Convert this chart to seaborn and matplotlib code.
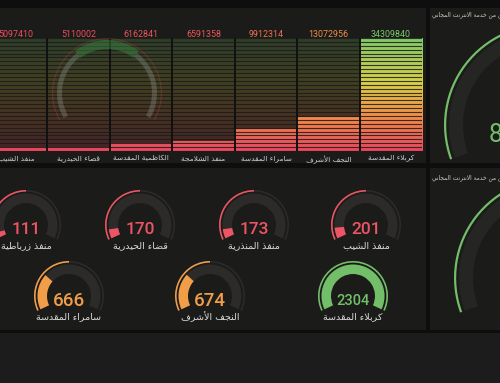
import numpy as np
import pandas as pd
import matplotlib
matplotlib.use("Agg")
import matplotlib.pyplot as plt
import seaborn as sns
from matplotlib.patches import Wedge, Rectangle
from matplotlib.colors import LinearSegmentedColormap

# ---------------- data ----------------
bar_labels = ["منفذ الشيب", "قضاء الحيدرية", "الكاظمية المقدسة", "منفذ الشلامجة",
              "سامراء المقدسة", "النجف الأشرف", "كربلاء المقدسة"]
bar_values = [5097410, 5110002, 6162841, 6591358, 9912314, 13072956, 34309840]
bar_min = 4000000
bar_max = 34309840

gauge_labels_top = ["منفذ زرباطية", "قضاء الحيدرية", "منفذ المنذرية", "منفذ الشيب"]
gauge_values_top = [111, 170, 173, 201]
gauge_labels_bottom = ["سامراء المقدسة", "النجف الأشرف", "كربلاء المقدسة"]
gauge_values_bottom = [666, 674, 2304]
gauge_max = 2304

side_title = "عدد المستفيدين من خدمة الانترنت المجاني"
side_values = [85000000, 4299]

# ---------------- minimal Arabic shaping (presentation forms, visual order) -------------
_TABLE = [('\u0621', 0xFE80, 1), ('\u0622', 0xFE81, 2), ('\u0623', 0xFE83, 2), ('\u0624', 0xFE85, 2),
          ('\u0625', 0xFE87, 2), ('\u0626', 0xFE89, 4), ('\u0627', 0xFE8D, 2), ('\u0628', 0xFE8F, 4),
          ('\u0629', 0xFE93, 2), ('\u062A', 0xFE95, 4), ('\u062B', 0xFE99, 4), ('\u062C', 0xFE9D, 4),
          ('\u062D', 0xFEA1, 4), ('\u062E', 0xFEA5, 4), ('\u062F', 0xFEA9, 2), ('\u0630', 0xFEAB, 2),
          ('\u0631', 0xFEAD, 2), ('\u0632', 0xFEAF, 2), ('\u0633', 0xFEB1, 4), ('\u0634', 0xFEB5, 4),
          ('\u0635', 0xFEB9, 4), ('\u0636', 0xFEBD, 4), ('\u0637', 0xFEC1, 4), ('\u0638', 0xFEC5, 4),
          ('\u0639', 0xFEC9, 4), ('\u063A', 0xFECD, 4), ('\u0641', 0xFED1, 4), ('\u0642', 0xFED5, 4),
          ('\u0643', 0xFED9, 4), ('\u0644', 0xFEDD, 4), ('\u0645', 0xFEE1, 4), ('\u0646', 0xFEE5, 4),
          ('\u0647', 0xFEE9, 4), ('\u0648', 0xFEED, 2), ('\u0649', 0xFEEF, 2), ('\u064A', 0xFEF1, 4)]
_FORMS = {}
for ch, base, n in _TABLE:
    if n == 4:
        _FORMS[ch] = (base, base + 1, base + 2, base + 3)
    elif n == 2:
        _FORMS[ch] = (base, base + 1, None, None)
    else:
        _FORMS[ch] = (base, None, None, None)
_LAM_ALEF = {'\u0622': 0xFEF5, '\u0623': 0xFEF7, '\u0625': 0xFEF9, '\u0627': 0xFEFB}


def shape(s):
    units = []
    i = 0
    while i < len(s):
        c = s[i]
        if c == '\u0644' and i + 1 < len(s) and s[i + 1] in _LAM_ALEF:
            units.append(('LA', _LAM_ALEF[s[i + 1]]))
            i += 2
            continue
        units.append(('C', c))
        i += 1

    def kind(u):
        if u[0] == 'LA':
            return 'right'
        f = _FORMS.get(u[1])
        if f is None:
            return 'none'
        if f[2] is not None:
            return 'dual'
        if f[1] is not None:
            return 'right'
        return 'none'

    out = []
    for j, u in enumerate(units):
        k = kind(u)
        pj = j > 0 and kind(units[j - 1]) == 'dual'
        nj = j + 1 < len(units) and kind(units[j + 1]) in ('dual', 'right')
        if u[0] == 'LA':
            out.append(chr(u[1] + (1 if pj else 0)))
            continue
        if k == 'none':
            out.append(u[1])
            continue
        f = _FORMS[u[1]]
        if k == 'right':
            out.append(chr(f[1] if pj else f[0]))
        else:
            if pj and nj:
                g = f[3]
            elif pj:
                g = f[1]
            elif nj:
                g = f[2]
            else:
                g = f[0]
            out.append(chr(g))
    return ''.join(reversed(out))


# ---------------- style ----------------
RED, ORANGE, GREEN = "#ec5564", "#f29e48", "#73bf69"
PANEL = "#1b1b19"
TRACK = "#2c2b29"
W, H = 500, 383
AR = "DejaVu Sans"
NUM = "Roboto"


def color_for(v):
    if v >= 1000:
        return GREEN
    if v >= 500:
        return ORANGE
    return RED


fig = plt.figure(figsize=(W / 100, H / 100), dpi=100, facecolor="#0e0e0e")

# background panels
bg = fig.add_axes([0, 0, 1, 1], zorder=0)
bg.set_xlim(0, W)
bg.set_ylim(H, 0)
bg.axis("off")


def rect(ax, x0, y0, x1, y1, c):
    ax.add_patch(Rectangle((x0, y0), x1 - x0, y1 - y0, facecolor=c, edgecolor="none"))


rect(bg, -5, 8, 426, 163, PANEL)
rect(bg, -5, 168, 426, 330, PANEL)
rect(bg, 430, 8, 505, 163, PANEL)
rect(bg, 430, 168, 505, 330, PANEL)
rect(bg, -5, 333, 505, 390, "#1c1c1c")

# ---------------- bar gauge ----------------
left_px, right_px, top_px, bot_px = -15.25, 422.25, 38, 151
bx = fig.add_axes([left_px / W, 1 - bot_px / H, (right_px - left_px) / W, (bot_px - top_px) / H], zorder=1)
bx.patch.set_alpha(0)
df = pd.DataFrame({"name": bar_labels, "value": bar_values})
sns.barplot(data=df, x="name", y="value", ax=bx, width=1.0, color="#000000", saturation=1)

cmap = LinearSegmentedColormap.from_list(
    "rdylgn_g", [(0, "#ea4660"), (0.3, "#f28c48"), (0.6, "#d8cf46"), (1, "#7cc86c")])
grad = np.linspace(0, 1, 256).reshape(-1, 1)
bx.imshow(grad, extent=[-0.5, 6.5, bar_min, bar_max], origin="lower", cmap=cmap,
          alpha=0.2, aspect="auto", zorder=1)
for p in list(bx.patches):
    p.set_facecolor("none")
    p.set_edgecolor("none")
    x0, w = p.get_x(), p.get_width()
    im = bx.imshow(grad, extent=[x0, x0 + w, bar_min, bar_max], origin="lower", cmap=cmap,
                   alpha=1.0, aspect="auto", zorder=2)
    im.set_clip_path(p)

for yv in np.linspace(bar_min, bar_max, 30):
    bx.axhline(yv, color=PANEL, lw=0.8, alpha=0.85, zorder=3)
for xv in np.arange(0.5, 6, 1):
    bx.axvline(xv, color="#111111", lw=1.4, zorder=4)
bx.set_xlim(-0.5, 6.5)
bx.set_ylim(bar_min, bar_max)
bx.set_xticks(range(len(bar_labels)))
bx.set_xticklabels([shape(l) for l in bar_labels], fontsize=5.3, color="#cfcfcf", family=AR)
bx.tick_params(axis="x", length=0, pad=3)
bx.set_yticks([])
bx.set_xlabel("")
bx.set_ylabel("")
for s in bx.spines.values():
    s.set_visible(False)
for i, v in enumerate(bar_values):
    frac = (v - bar_min) / (bar_max - bar_min)
    bx.annotate(f"{v}", xy=(i, 1), xycoords=bx.get_xaxis_transform(), xytext=(0, -0.5),
                textcoords="offset points", ha="center", va="bottom", fontsize=6.4,
                color=cmap(frac), family=NUM)

# ---------------- overlay: logo, gauges, titles ----------------
ov = fig.add_axes([0, 0, 1, 1], zorder=2)
ov.set_xlim(0, W)
ov.set_ylim(H, 0)
ov.axis("off")
ov.patch.set_alpha(0)


def arc(ax, cx, cy, r, width, a_start, a_end, color, alpha=1.0, z=3):
    ax.add_patch(Wedge((cx, cy), r, -a_start, -a_end, width=width, facecolor=color,
                       edgecolor="none", alpha=alpha, zorder=z))


# faint watermark logo
arc(ov, 107, 93, 50, 5, 210, 127, "#a0a0a0", alpha=0.3)
arc(ov, 107, 93, 50, 5, 53, -30, "#a0a0a0", alpha=0.3)
arc(ov, 107, 93, 53, 9, 127, 53, "#3f9a4a", alpha=0.4)
arc(ov, 107, 93, 55, 1.2, 210, -30, "#c04050", alpha=0.3)

START, SWEEP = 205, 230


def gauge(cx, cy, val, label, numsize):
    col = color_for(val)
    frac = min(val / gauge_max, 1.0)
    ring = 1.0 if col == GREEN else 0.5
    arc(ov, cx, cy, 35, 1.6, START, START - SWEEP, TRACK)
    arc(ov, cx, cy, 35, 1.6, START, START - SWEEP * ring, col)
    arc(ov, cx, cy, 31.5, 9.5, START, START - SWEEP, TRACK)
    arc(ov, cx, cy, 31.5, 9.5, START, START - SWEEP * frac, col)
    ov.text(cx, cy + 5, str(val), ha="center", va="center", fontsize=numsize, color=col,
            family=NUM, fontweight="medium")
    ov.text(cx, cy + 21, shape(label), ha="center", va="center", fontsize=6.8,
            color="#dcdcdc", family=AR)


for cx, v, l in zip([26, 140, 254, 366], gauge_values_top, gauge_labels_top):
    gauge(cx, 225, v, l, 12.5 if len(str(v)) < 4 else 10.5)
for cx, v, l in zip([69, 210, 353], gauge_values_bottom, gauge_labels_bottom):
    gauge(cx, 296, v, l, 13.5 if len(str(v)) < 4 else 10.5)

# right-hand big gauges
for (cx, cy, ty), val in zip([(545, 125, 15), (555, 278, 178)], side_values):
    arc(ov, cx, cy, 101, 2.2, 200, 200 - SWEEP, GREEN)
    arc(ov, cx, cy, 96, 14, 200, 200 - SWEEP, "#252523")
    ov.text(cx, cy + 10, f"{val}", ha="center", va="center", fontsize=18, color=GREEN, family=NUM)
    ov.text(432, ty, shape(side_title), ha="left", va="center", fontsize=4.2,
            color="#cfcfcf", family=AR)

fig.savefig("out.png", dpi=100, facecolor=fig.get_facecolor())
